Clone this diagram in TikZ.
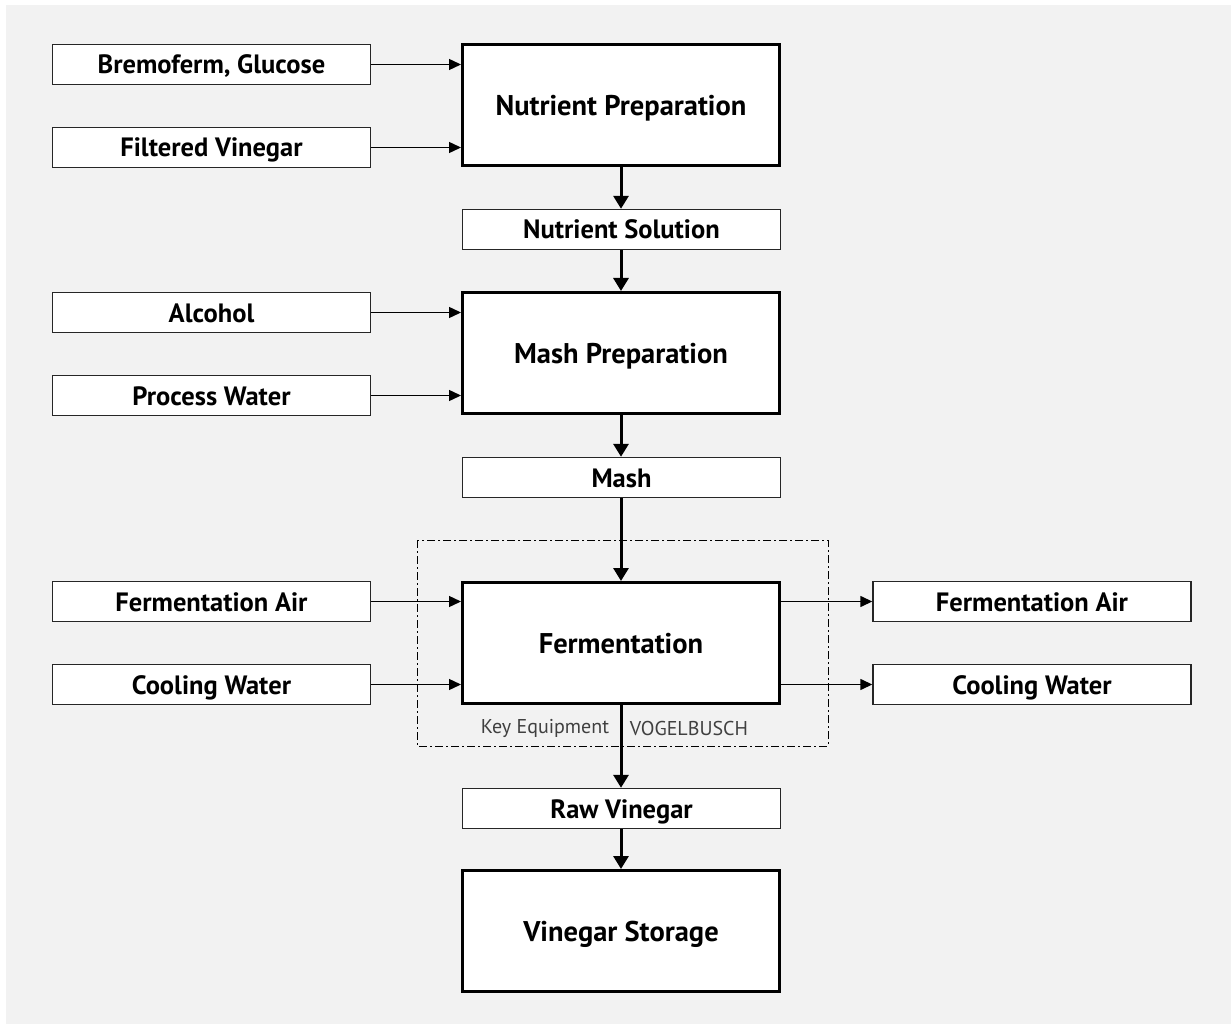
\documentclass[tikz,border=0pt]{standalone}
\usepackage{fontspec}
\setmainfont{PT Sans}
\usetikzlibrary{arrows.meta}
\begin{document}
\begin{tikzpicture}[x=1pt,y=-1pt,
  bigbox/.style={draw=black,line width=3pt,fill=white,minimum width=317pt,minimum height=121pt,inner sep=0pt,text height=21pt,text depth=0pt,font=\fontsize{28.5}{32}\selectfont\bfseries},
  smallbox/.style={draw=black!85,line width=1.4pt,fill=white,minimum width=318pt,minimum height=40pt,inner sep=0pt,text height=19pt,text depth=0pt,font=\fontsize{26.5}{30}\selectfont\bfseries},
  thinarrow/.style={line width=1.4pt,-{Triangle[length=12pt,width=11pt]}},
  thickarrow/.style={line width=3pt,-{Triangle[length=13pt,width=15pt]}},
  eqtext/.style={text=black!75,font=\fontsize{20}{24}\selectfont}
]
\useasboundingbox (0,0) rectangle (1231,1024);
\fill[white] (0,0) rectangle (1231,1024);
\fill[black!5] (6,5) rectangle (1231,1024);

% dashed key equipment box
\draw[line width=1pt,dash pattern=on 8pt off 3pt on 2pt off 3pt] (417,540) rectangle (828,746);

% big boxes
\node[bigbox] (np) at (621,105) {Nutrient Preparation};
\node[bigbox] (mp) at (621,353) {Mash Preparation};
\node[bigbox] (fe) at (621,643) {Fermentation};
\node[bigbox] (vs) at (621,931) {Vinegar Storage};

% intermediate boxes
\node[smallbox] (ns) at (621.5,229.5) {Nutrient Solution};
\node[smallbox] (ma) at (621.5,477.5) {Mash};
\node[smallbox] (rv) at (621.5,808.5) {Raw Vinegar};

% left inputs
\node[smallbox] (bg) at (211.5,64.5) {Bremoferm, Glucose};
\node[smallbox] (fv) at (211.5,147.5) {Filtered Vinegar};
\node[smallbox] (al) at (211.5,312.5) {Alcohol};
\node[smallbox] (pw) at (211.5,395.5) {Process Water};
\node[smallbox] (fa) at (211.5,601.5) {Fermentation Air};
\node[smallbox] (cw) at (211.5,684.5) {Cooling Water};

% right outputs
\node[smallbox] (fao) at (1032,601.5) {Fermentation Air};
\node[smallbox] (cwo) at (1032,684.5) {Cooling Water};

% key equipment text
\node[eqtext] (ke) at (545,728) {Key Equipment};
\node[eqtext] (vb) at (689,728) {VOGELBUSCH};

% thin arrows
\draw[thinarrow] (bg.east) -- (np.west |- bg.east);
\draw[thinarrow] (fv.east) -- (np.west |- fv.east);
\draw[thinarrow] (al.east) -- (mp.west |- al.east);
\draw[thinarrow] (pw.east) -- (mp.west |- pw.east);
\draw[thinarrow] (fa.east) -- (fe.west |- fa.east);
\draw[thinarrow] (cw.east) -- (fe.west |- cw.east);
\draw[thinarrow] (fe.east |- fao.west) -- (fao.west);
\draw[thinarrow] (fe.east |- cwo.west) -- (cwo.west);

% thick arrows
\draw[thickarrow] (np.south) -- (ns.north -| np.south);
\draw[thickarrow] (ns.south -| np.south) -- (mp.north);
\draw[thickarrow] (mp.south) -- (ma.north -| mp.south);
\draw[thickarrow] (ma.south -| mp.south) -- (fe.north);
\draw[thickarrow] (fe.south) -- (rv.north -| fe.south);
\draw[thickarrow] (rv.south -| fe.south) -- (vs.north);
\end{tikzpicture}
\end{document}
